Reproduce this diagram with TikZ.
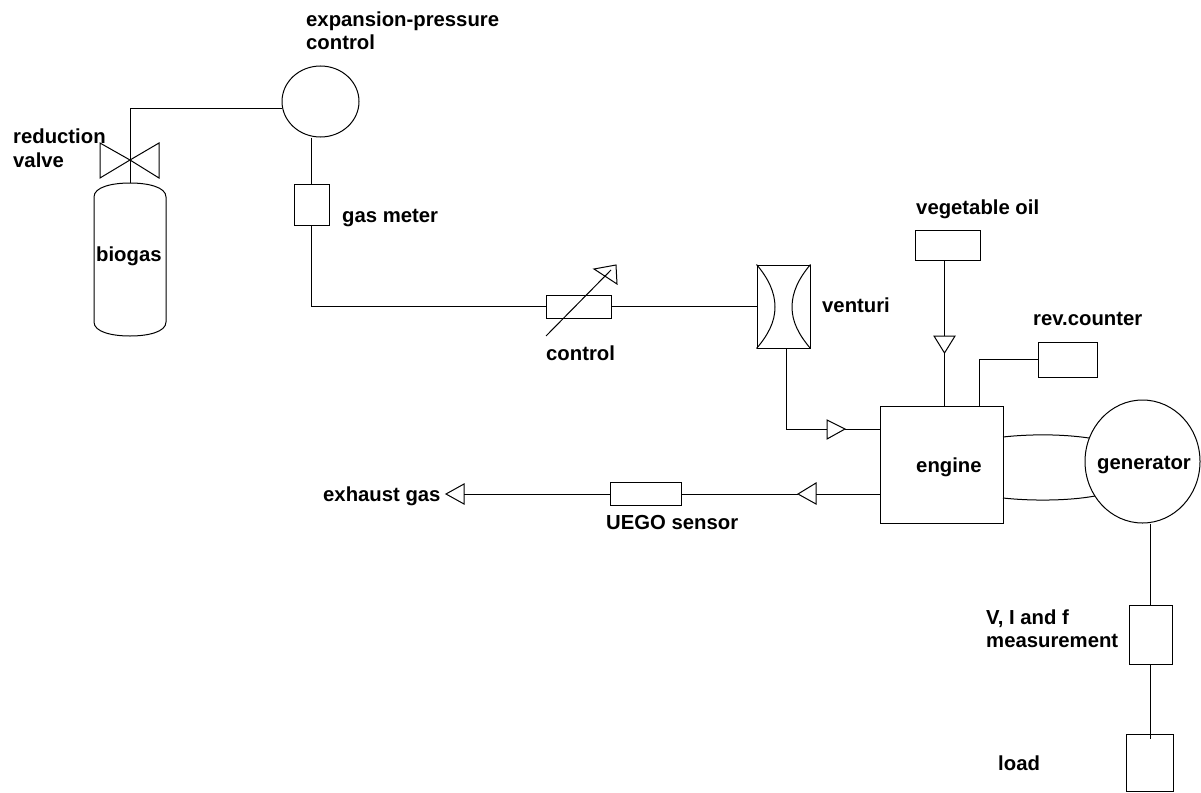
\documentclass[tikz,border=0pt]{standalone}
\usepackage{fontspec}
\setmainfont{Liberation Sans}
\usetikzlibrary{shapes.geometric}
\tikzset{
    pipe/.style={line width=1pt},
    unit/.style={draw, line width=1pt, inner sep=0pt},
    lbl/.style={font=\fontsize{20.3}{23}\selectfont\bfseries, inner sep=0pt, anchor=base west},
}
\begin{document}
\begin{tikzpicture}[x=1pt,y=-1pt]
    \useasboundingbox (0,0) rectangle (1201,792);
    % gas side
    \coordinate (valve) at (130,160);
    \coordinate (biogastop) at (130,183);
    \coordinate (pipecorner) at (130,108);
    \draw[pipe] (94,197) .. controls (94,187) and (112,183) .. (biogastop) .. controls (148,183) and (166,187) .. (166,197) -- (166,322) .. controls (166,332) and (148,336) .. (130,336) .. controls (112,336) and (94,332) .. (94,322) -- cycle;
    \draw[pipe] (valve) -- (100,143) -- (100,178) -- (valve) -- (159,143) -- (159,178) -- cycle;
    \node[unit, ellipse, minimum width=77pt, minimum height=71pt] (expansion) at (320.5,101.5) {};
    \node[unit, minimum width=35pt, minimum height=41pt] (gasmeter) at (311.5,204.5) {};
    \node[unit, minimum width=65pt, minimum height=23pt] (control) at (578.5,306.5) {};
    \node[unit, minimum width=53pt, minimum height=83pt] (venturi) at (783.5,306.5) {};
    \draw[pipe] (biogastop) -- (pipecorner) -- (expansion.west |- pipecorner);
    \draw[pipe] (expansion.south -| gasmeter.north) -- (gasmeter.north);
    \draw[pipe] (gasmeter.south) |- (control.west);
    \draw[pipe] (control.east) -- (venturi.west);
    \draw[pipe] (546,336) -- (611,270);
    \draw[pipe] (594,269) -- (616,265) -- (617,284) -- cycle;
    \draw[pipe] (venturi.north west) .. controls (768,278) and (775,292) .. (775,307) .. controls (775,322) and (768,335) .. (venturi.south west);
    \draw[pipe] (venturi.north east) .. controls (799,278) and (792,292) .. (792,307) .. controls (792,322) and (799,335) .. (venturi.south east);
    % engine side
    \node[unit, minimum width=123pt, minimum height=117pt] (engine) at (941.5,464.5) {};
    \node[unit, ellipse, minimum width=115pt, minimum height=123pt] (generator) at (1142.5,461.5) {};
    \node[unit, minimum width=65pt, minimum height=30pt] (oil) at (947.5,245) {};
    \node[unit, minimum width=59pt, minimum height=35pt] (revcounter) at (1067.5,359.5) {};
    \node[unit, minimum width=71pt, minimum height=23pt] (uego) at (645.5,494) {};
    \node[unit, minimum width=43pt, minimum height=59pt] (meas) at (1150.5,634.5) {};
    \node[unit, minimum width=47pt, minimum height=57pt] (load) at (1149.5,762.5) {};
    \coordinate (loadtap) at (1150.5,739);
    \draw[pipe] (786,348) |- (827,429);
    \draw[pipe] (827,420) -- (845,429) -- (827,439) -- cycle;
    \draw[pipe] (845,429) -- (engine.west |- 0,429);
    \draw[pipe] (944.5,260) -- (944.5,336);
    \draw[pipe] (934,336) -- (955,336) -- (944.5,353) -- cycle;
    \draw[pipe] (944.5,353) -- (944.5,406);
    \draw[pipe] (revcounter.west) -| (979,406);
    \draw[pipe] (1003,437) .. controls (1030,434) and (1062,434) .. (1089,438);
    \draw[pipe] (1003,498) .. controls (1030,501) and (1068,501) .. (1095,496);
    \draw[pipe] (generator.south -| meas.north) -- (meas.north);
    \draw[pipe] (meas.south) -- (loadtap);
    % exhaust
    \draw[pipe] (engine.west |- uego.east) -- (816,494);
    \draw[pipe] (816,483) -- (798,494) -- (816,504) -- cycle;
    \draw[pipe] (798,494) -- (uego.east);
    \draw[pipe] (uego.west) -- (464,494);
    \draw[pipe] (464,484) -- (446,494) -- (464,504) -- cycle;
    % labels
    \node[lbl] (biogaslbl) at (96,261) {biogas};
    \node[lbl] (enginelbl) at (916,472) {engine};
    \node[lbl] (generatorlbl) at (1097,469) {generator};
    \node[lbl] (expansionlbl) at (306,27) {expansion-pressure};
    \node[lbl] (expansionlbltwo) at (306,50) {control};
    \node[lbl] (valvelbl) at (13,143) {reduction};
    \node[lbl] (valvelbltwo) at (13,167) {valve};
    \node[lbl] (gasmeterlbl) at (342,222) {gas meter};
    \node[lbl] (controllbl) at (546,360) {control};
    \node[lbl] (venturilbl) at (822,312) {venturi};
    \node[lbl] (oillbl) at (916,214) {vegetable oil};
    \node[lbl] (revlbl) at (1033,325) {rev.counter};
    \node[lbl] (exhaustlbl) at (323,501) {exhaust gas};
    \node[lbl] (uegolbl) at (606,529) {UEGO sensor};
    \node[lbl] (measlbl) at (986,624) {V, I and f};
    \node[lbl] (measlbltwo) at (986,647) {measurement};
    \node[lbl] (loadlbl) at (998,770) {load};
\end{tikzpicture}
\end{document}
